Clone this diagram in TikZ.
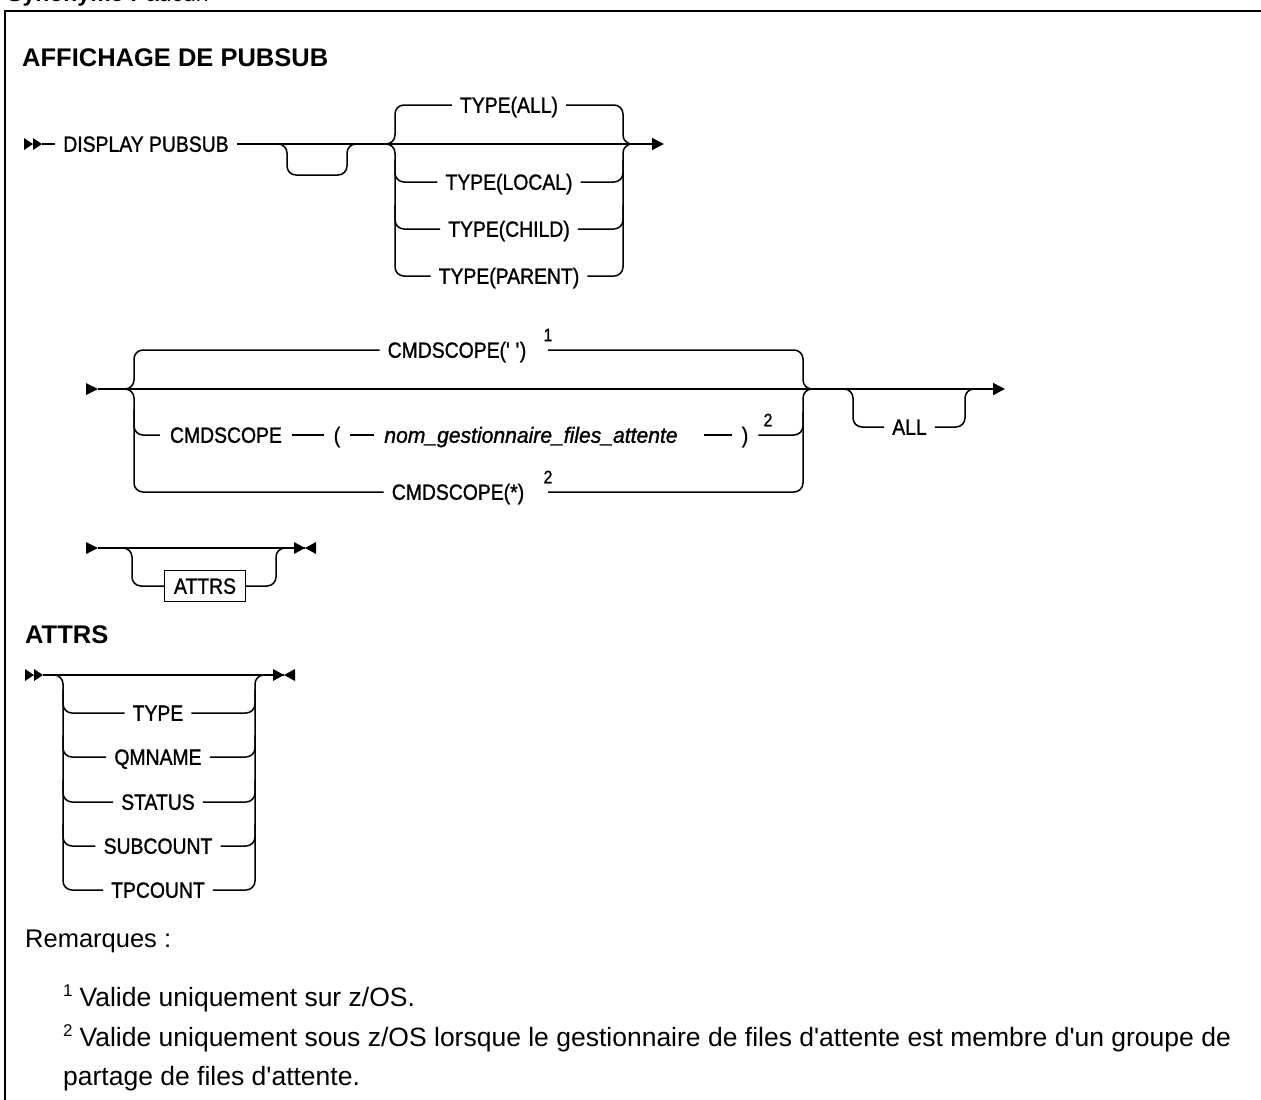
\documentclass[tikz,border=0pt]{standalone}
\usepackage{fontspec}
\setmainfont{Liberation Sans}
\newfontfamily\rrfont{Liberation Sans}[FakeStretch=0.88, FakeBold=1.2]
\usetikzlibrary{arrows.meta}
\newcommand{\myq}{\textquotesingle}
\begin{document}
\begin{tikzpicture}[x=1pt,y=-1pt,
  rail/.style={line width=1.5pt, rounded corners=9pt},
  frame/.style={line width=2.4pt},
  lbl/.style={font=\rrfont\fontsize{22}{24}\selectfont, inner ysep=0pt, inner xsep=8pt, text height=15.5pt, text depth=0pt},
  wide/.style={inner xsep=10pt},
  ttl/.style={anchor=base west, inner sep=0pt, font=\fontsize{25.5}{28}\selectfont\bfseries},
  supn/.style={inner sep=0pt, font=\rrfont\fontsize{18}{20}\selectfont},
  note/.style={anchor=base west, inner sep=0pt, font=\fontsize{26.5}{30}\selectfont},
  endarrow/.style={rail, -{Triangle[length=12pt,width=12pt]}},
  boxed/.style={lbl, draw, line width=1.2pt, inner xsep=9.5pt, inner ysep=8pt}
]
\useasboundingbox (0,0) rectangle (1261,1100);
% frame
\draw[frame] (1300,11) -| (5,1140);
\node[anchor=base west, inner sep=0pt, font=\fontsize{23}{26}\selectfont] (syn) at (7,1.5) {\textbf{Synonyme :} aucun};

\node[ttl] (title) at (22,66) {AFFICHAGE DE PUBSUB};

% ---------- row 1
\fill (24,138) -- (33,144) -- (24,150) -- cycle;
\fill (33,138) -- (42,144) -- (33,150) -- cycle;
\coordinate (r1s) at (42,144);
\coordinate (r1e) at (664,144);
\coordinate (lpA) at (277,144);
\coordinate (lpD) at (287,175);
\coordinate (lpU) at (347,144);
\coordinate (lpB) at (357,144);
\coordinate (tJL) at (386,144);
\coordinate (tJR) at (632,144);
\node[lbl] (dp) at (146,144) {DISPLAY PUBSUB};
\draw[rail] (r1s) -- (dp.west);
\draw[endarrow] (dp.east) -- (r1e);
\draw[rail] (lpA) -| (lpD) -| (lpU) -- (lpB);

\node[lbl] (tall) at (509,105) {TYPE(ALL)};
\node[lbl] (tloc) at (509,182) {TYPE(LOCAL)};
\node[lbl] (tchi) at (509,229) {TYPE(CHILD)};
\node[lbl] (tpar) at (509,276) {TYPE(PARENT)};
\draw[rail] (tJL) -| (395,105) -- (tall.west);
\draw[rail] (tJL) -| (395,276) -- (tpar.west);
\draw[rail] (395,160) |- (tloc.west);
\draw[rail] (395,205) |- (tchi.west);
\draw[rail] (tall.east) -| (623,144) -- (tJR);
\draw[rail] (tpar.east) -| (623,144) -- (tJR);
\draw[rail] (tloc.east) -| (623,160);
\draw[rail] (tchi.east) -| (623,205);

% ---------- row 2
\fill (86,383) -- (98,389) -- (86,395) -- cycle;
\coordinate (r2s) at (98,389);
\coordinate (r2e) at (1005,389);
\coordinate (cJL) at (125,389);
\coordinate (cJR) at (812,389);
\node[lbl] (c1) at (457,350) {CMDSCOPE(\myq\ \myq)};
\node[supn] (n1) at (548,335) {1};
\node[lbl,wide] (cs) at (226,435) {CMDSCOPE};
\node[lbl,wide] (lp) at (337,435) {(};
\node[lbl,wide] (qm) at (531,435) {\scalebox{1.09}[1]{\itshape nom\_gestionnaire\_files\_attente}};
\node[lbl,wide] (rp) at (745,435) {)};
\node[supn] (n2a) at (768,420) {2};
\node[lbl] (c3) at (458,492) {CMDSCOPE(*)};
\node[supn] (n2b) at (548,477) {2};
\draw[endarrow] (r2s) -- (r2e);
\draw[rail] (cJL) -| (134,350) -- (c1.west);
\draw[rail] (cJL) -| (134,492) -- (c3.west);
\draw[rail] (134,410) |- (cs.west);
\draw[rail] (cs.east) -- (lp.west);
\draw[rail] (lp.east) -- (qm.west);
\draw[rail] ([xshift=16pt]qm.east) -- (rp.west);
\draw[rail] (rp.east) -| (803,412);
\draw[rail] (n1.center |- c1.east) -| (803,389) -- (cJR);
\draw[rail] (n2b.center |- c3.east) -| (803,389) -- (cJR);
% ALL loop
\coordinate (aA) at (844,389);
\coordinate (aB) at (975,389);
\node[lbl] (alln) at (909.5,427) {ALL};
\draw[rail] (aA) -| (853,427) -- (alln.west);
\draw[rail] (alln.east) -| (965,389) -- (aB);

% ---------- row 3
\fill (86,542) -- (98,548) -- (86,554) -- cycle;
\coordinate (r3s) at (98,548);
\coordinate (r3e) at (305,548);
\draw[rail] (r3s) -- (r3e);
\fill (294,542) -- (305,548) -- (294,554) -- cycle;
\fill (316,542) -- (305,548) -- (316,554) -- cycle;
\node[boxed] (attb) at (205,586) {ATTRS};
\draw[rail] (123,548) -| (132,586) -- (attb.west);
\draw[rail] (attb.east) -| (276,548) -- (285,548);

% ---------- ATTRS fragment
\node[ttl] (ah) at (25,643) {ATTRS};
\fill (25,669) -- (34,675) -- (25,681) -- cycle;
\fill (34,669) -- (43,675) -- (34,681) -- cycle;
\coordinate (r4s) at (43,675);
\coordinate (r4e) at (284,675);
\draw[rail] (r4s) -- (r4e);
\fill (273,669) -- (284,675) -- (273,681) -- cycle;
\fill (295,669) -- (284,675) -- (295,681) -- cycle;
\node[lbl] (ty) at (158,713) {TYPE};
\node[lbl] (qmn) at (158,757) {QMNAME};
\node[lbl] (st) at (158,802) {STATUS};
\node[lbl] (sc) at (158,846) {SUBCOUNT};
\node[lbl] (tp) at (158,890) {TPCOUNT};
\draw[rail] (54,675) -| (63,890) -- (tp.west);
\draw[rail] (63,690) |- (ty.west);
\draw[rail] (63,735) |- (qmn.west);
\draw[rail] (63,780) |- (st.west);
\draw[rail] (63,824) |- (sc.west);
\draw[rail] (tp.east) -| (255,675) -- (264,675);
\draw[rail] (ty.east) -| (255,690);
\draw[rail] (qmn.east) -| (255,735);
\draw[rail] (st.east) -| (255,780);
\draw[rail] (sc.east) -| (255,824);

% ---------- notes
\node[note, font=\fontsize{25.5}{30}\selectfont] (rem) at (25,947) {Remarques :};
\node[note] (nt1) at (63,1006) {\raisebox{9.5pt}{\fontsize{17}{17}\selectfont 1}\hspace{7pt}Valide uniquement sur z/OS.};
\node[note] (nt2) at (63,1046) {\raisebox{9.5pt}{\fontsize{17}{17}\selectfont 2}\hspace{7pt}Valide uniquement sous z/OS lorsque le gestionnaire de files d\myq attente est membre d\myq un groupe de};
\node[note] (nt3) at (63,1085) {partage de files d\myq attente.};
\end{tikzpicture}
\end{document}
